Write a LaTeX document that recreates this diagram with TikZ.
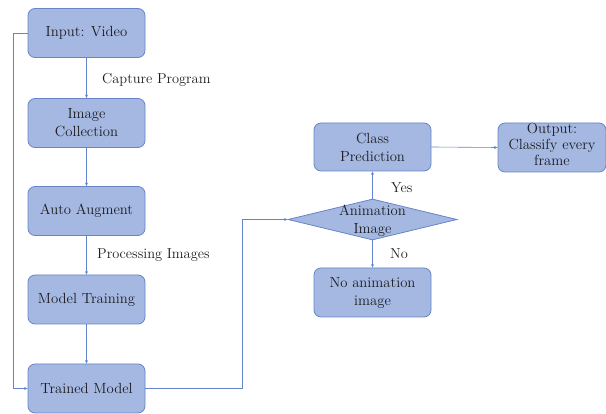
\documentclass[tikz,border=0pt]{standalone}
\usetikzlibrary{shapes.geometric,arrows.meta}
\definecolor{boxfill}{RGB}{164,184,226}
\definecolor{boxline}{RGB}{104,132,198}
\definecolor{flow}{RGB}{100,132,208}
\definecolor{ink}{RGB}{28,28,32}
\begin{document}
\begin{tikzpicture}[x=1pt,y=-1pt,
  font=\fontsize{14.7}{18}\selectfont, text=ink,
  stepbox/.style={draw=boxline,fill=boxfill,rounded corners=7pt,line width=0.8pt,
    minimum width=117pt,minimum height=49pt,align=center,inner sep=1pt},
  decision/.style={draw=boxline,fill=boxfill,diamond,line width=0.8pt,inner sep=0pt,
    minimum width=169pt,minimum height=41pt},
  flowline/.style={draw=flow,line width=0.6pt},
  flowarrow/.style={flowline,-{Stealth[length=3.5pt,width=3pt]}},
  note/.style={inner sep=0pt,anchor=west,font=\fontsize{14.4}{18}\selectfont}]
\useasboundingbox (0,0) rectangle (606,414);

% left column
\node[stepbox] (input) at (86.5,33) {Input: Video};
\node[stepbox] (coll) at (86.5,123) {Image\\Collection};
\node[stepbox] (aug) at (86.5,211) {Auto Augment};
\node[stepbox] (train) at (86.5,299.5) {Model Training};
\node[stepbox] (model) at (86.5,388.5) {Trained Model};

% right part
\node[stepbox,minimum height=48pt] (cls) at (372.5,147) {Class\\Prediction};
\node[stepbox,minimum width=108pt] (out) at (552,147.5) {};
\node[align=center,inner sep=0pt,font=\fontsize{14.7}{16}\selectfont] (outtext) at (552,144.5) {Output:\\Classify every\\frame};
\node[stepbox] (noanim) at (372.5,292.5) {No animation\\image};
\node[decision] (dia) at (372.5,219.5) {};
\node[align=center,inner sep=0pt] (diatext) at (372.5,221) {Animation\\Image};

% connectors
\draw[flowarrow] (input) -- (coll);
\draw[flowarrow] (coll) -- (aug);
\draw[flowarrow] (aug) -- (train);
\draw[flowarrow] (train) -- (model);
\coordinate (leftrail) at (13,33);
\draw[flowarrow] (input.west) -- (leftrail) |- (model.west);
\coordinate (bend) at (242,219.5);
\draw[flowarrow] (model.east) -| (bend) -- (dia.west);
\draw[flowarrow] (dia.north) -- (cls.south);
\draw[flowarrow] (dia.south) -- (noanim.north);
\draw[flowarrow] (cls.east) -- (out.west);

% labels
\node[note] (lcap) at (102,80) {Capture Program};
\node[note] (lproc) at (97,255) {Processing Images};
\node[note] (lyes) at (391,188) {Yes};
\node[note] (lno) at (390,254) {No};
\end{tikzpicture}
\end{document}
